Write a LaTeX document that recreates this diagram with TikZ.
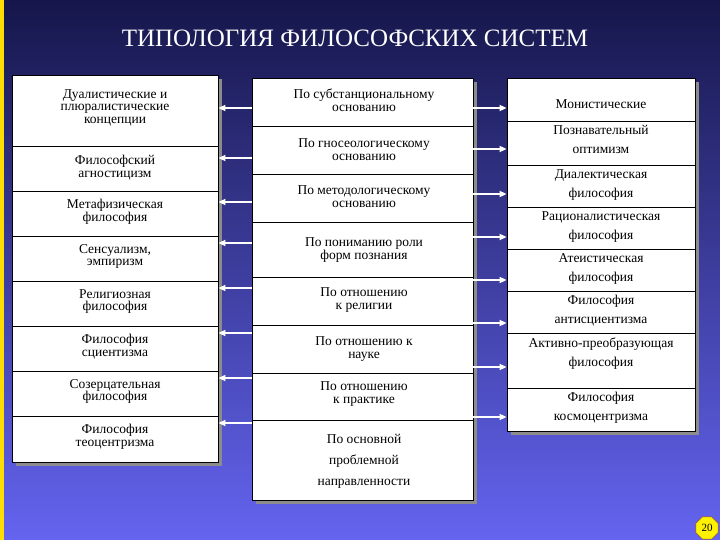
\documentclass[tikz,border=0pt]{standalone}
\usepackage{fontspec}
\setmainfont{Liberation Serif}
\usetikzlibrary{shapes.geometric,arrows.meta}
\begin{document}
\begin{tikzpicture}[x=1pt,y=-1pt,
  cell/.style={draw=black,line width=0.8pt,fill=white,inner sep=0pt,align=center,font=\fontsize{13.5}{13}\selectfont},
  arr/.style={draw=white,line width=1.6pt,-{Triangle[length=7pt,width=6pt]}},
  shadow/.style={fill=black!45}]
\shade[top color={rgb,255:red,22;green,22;blue,75},bottom color={rgb,255:red,100;green,100;blue,240}] (0,0) rectangle (720,540);
\fill[yellow!80!orange] (0,0) rectangle (4,540);
\useasboundingbox (0,0) rectangle (720,540);
\node[text=white,font=\fontsize{25}{25}\selectfont] (title) at (355,38) {ТИПОЛОГИЯ ФИЛОСОФСКИХ СИСТЕМ};
% shadows
\fill[shadow] (16,79) rectangle (222,466);
\fill[shadow] (256,82) rectangle (477,504);
\fill[shadow] (511,82) rectangle (699,435);
\newcommand{\cellL}[5]{\node[cell,minimum width=206pt,minimum height={(#3-#2)*1pt}] (#1) at (115,{(#2+#3)/2}) {};
  \node[font=\fontsize{13.5}{12.5}\selectfont,align=center,anchor=north] (#1t) at (115,#2+#4) {#5};}
\newcommand{\cellM}[5]{\node[cell,minimum width=221pt,minimum height={(#3-#2)*1pt}] (#1) at (362.5,{(#2+#3)/2}) {};
  \node[font=\fontsize{13.5}{13}\selectfont,align=center,anchor=north] (#1t) at (364,#2+#4) {#5};}
\newcommand{\cellR}[5]{\node[cell,minimum width=188pt,minimum height={(#3-#2)*1pt}] (#1) at (601,{(#2+#3)/2}) {};
  \node[font=\fontsize{13.5}{19}\selectfont,align=center,anchor=north] (#1t) at (601,#2+#4) {#5};}
\cellL{l1}{75}{146}{11}{Дуалистические и\\плюралистические\\концепции}
\cellL{l2}{146}{191}{6}{Философский\\агностицизм}
\cellL{l3}{191}{236}{5}{Метафизическая\\философия}
\cellL{l4}{236}{281}{5}{Сенсуализм,\\эмпиризм}
\cellL{l5}{281}{326}{5}{Религиозная\\философия}
\cellL{l6}{326}{371}{5}{Философия\\сциентизма}
\cellL{l7}{371}{416}{5}{Созерцательная\\философия}
\cellL{l8}{416}{462}{5}{Философия\\теоцентризма}
\cellM{m1}{78}{126}{7}{По субстанциональному\\основанию}
\cellM{m2}{126}{174}{9}{По гносеологическому\\основанию}
\cellM{m3}{174}{222}{8}{По методологическому\\основанию}
\cellM{m4}{222}{277}{12}{По пониманию роли\\форм познания}
\cellM{m5}{277}{325}{7}{По отношению\\к религии}
\cellM{m6}{325}{373}{8}{По отношению к\\науке}
\cellM{m7}{373}{420}{5}{По отношению\\к практике}
\node[cell,minimum width=221pt,minimum height=80pt] (m8) at (362.5,460) {};
\node[font=\fontsize{13.5}{21}\selectfont,align=center,anchor=north] (m8t) at (364,431) {По основной\\проблемной\\направленности};
\cellR{r1}{78}{121}{18}{Монистические}
\cellR{r2}{121}{165}{1}{Познавательный\\оптимизм}
\cellR{r3}{165}{207}{1}{Диалектическая\\философия}
\cellR{r4}{207}{249}{1}{Рационалистическая\\философия}
\cellR{r5}{249}{291}{1}{Атеистическая\\философия}
\cellR{r6}{291}{333}{1}{Философия\\антисциентизма}
\cellR{r7}{333}{388}{1}{Активно-преобразующая\\философия}
\cellR{r8}{388}{431}{1}{Философия\\космоцентризма}
\foreach \i/\y in {1/108,2/158,3/202,4/243,5/288,6/333,7/378,8/423}
  \draw[arr] (m\i.west |- 0,\y) -- (l\i.east |- 0,\y);
\foreach \i/\y in {1/108,2/149,3/194,4/237,5/280,6/323,7/367,8/417}
  \draw[arr] (m\i.east |- 0,\y) -- (r\i.west |- 0,\y);
\node[regular polygon,regular polygon sides=8,fill=yellow,draw=orange!60!black,minimum size=24pt,inner sep=0pt,font=\fontsize{11}{11}\selectfont] (pg) at (707,528) {20};
\end{tikzpicture}
\end{document}
